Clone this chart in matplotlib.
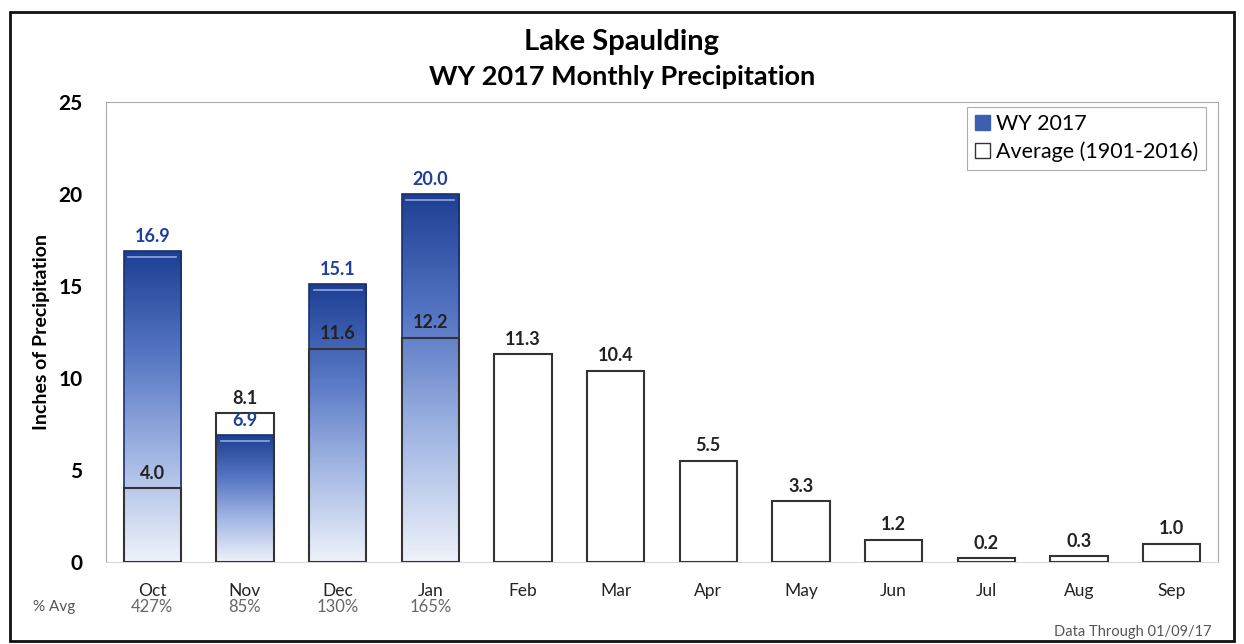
import numpy as np
import matplotlib.pyplot as plt
from matplotlib.colors import LinearSegmentedColormap
from matplotlib.patches import Rectangle, Patch

months = ['Oct', 'Nov', 'Dec', 'Jan', 'Feb', 'Mar', 'Apr', 'May', 'Jun', 'Jul', 'Aug', 'Sep']
wy2017 = [16.9, 6.9, 15.1, 20.0]
average = [4.0, 8.1, 11.6, 12.2, 11.3, 10.4, 5.5, 3.3, 1.2, 0.2, 0.3, 1.0]
pct_avg = ['427%', '85%', '130%', '165%']

plt.rcParams['font.family'] = ['Lato', 'DejaVu Sans']

grad = LinearSegmentedColormap.from_list('wy', ['#eef2fa', '#a4b8e4', '#5676c4', '#1d3f93'])

fig = plt.figure(figsize=(12.44, 6.44), dpi=100)
ax = fig.add_axes([0.0852, 0.1273, 0.8938, 0.7143])

x = np.arange(len(months))
w = 0.62

# WY 2017 bars with vertical gradient
bars = ax.bar(x[:len(wy2017)], wy2017, width=w, color='none', edgecolor='#1a2f6e', lw=1.2, zorder=3)
g = np.linspace(0, 1, 256).reshape(-1, 1)
for b, v in zip(bars, wy2017):
    x0 = b.get_x()
    im = ax.imshow(g, cmap=grad, origin='lower', aspect='auto',
                   extent=[x0, x0 + w, 0, v], zorder=2)
    im.set_clip_path(b)
    ax.plot([x0 + 0.05, x0 + w - 0.05], [v - 0.3, v - 0.3], color='#93a9dc', lw=1.2, zorder=2.5)
    ax.text(b.get_x() + w / 2, v + 0.35, f'{v:.1f}', ha='center', va='bottom',
            fontsize=13, fontweight='bold', color='#1f3f9a', zorder=5)

# average bars, outline only
avg_bars = ax.bar(x, average, width=w, facecolor='none', edgecolor='#333333', lw=1.5, zorder=4)
for b, v in zip(avg_bars, average):
    ax.text(b.get_x() + w / 2, v + 0.35, f'{v:.1f}', ha='center', va='bottom',
            fontsize=13, fontweight='bold', color='#222222', zorder=5)

ax.set_xlim(-0.5, len(months) - 0.5)
ax.set_ylim(0, 25)
ax.set_yticks([0, 5, 10, 15, 20, 25])
ax.set_xticks(x)
ax.set_xticklabels(months, fontsize=12.5, color='#222222')
ax.tick_params(axis='y', length=0, pad=17, labelsize=15)
for t in ax.get_yticklabels():
    t.set_fontweight('bold')
ax.tick_params(axis='x', length=0, pad=15)
for s in ['left', 'top', 'right']:
    ax.spines[s].set_color('#b0a8a8')
    ax.spines[s].set_linewidth(0.8)
ax.spines['bottom'].set_color('#d0d0d0')
ax.spines['bottom'].set_linewidth(0.6)

ax.set_ylabel('Inches of Precipitation', fontsize=14, fontweight='bold')
ax.yaxis.set_label_coords(-0.050, 0.5)

# percent of average row
fig.text(33 / 1244, 1 - 607 / 644, '% Avg', fontsize=11, color='#555555', ha='left', va='center')
for i, p in enumerate(pct_avg):
    ax.text(x[i], -2.45, p, transform=ax.transData, fontsize=12, color='#666666',
            ha='center', va='center', clip_on=False)

fig.text(0.5, 1 - 42 / 644, 'Lake Spaulding', ha='center', va='center', fontsize=21, fontweight='bold')
fig.text(0.5, 1 - 77 / 644, 'WY 2017 Monthly Precipitation', ha='center', va='center',
         fontsize=19.5, fontweight='bold')
fig.text(1212 / 1244, 1 - 632 / 644, 'Data Through 01/09/17', ha='right', va='center',
         fontsize=10.5, color='#555555')

# legend
handles = [Patch(facecolor='#3d5fb0', edgecolor='#3d5fb0'),
           Patch(facecolor='white', edgecolor='#333333')]
leg = ax.legend(handles, ['WY 2017', 'Average (1901-2016)'], loc='upper right',
                bbox_to_anchor=(0.9895, 0.99), fontsize=15.5, frameon=True, fancybox=False,
                handlelength=0.7, handleheight=0.7, handletextpad=0.3, borderpad=0.35,
                labelspacing=0.35, borderaxespad=0)
leg.get_frame().set_edgecolor('#999999')
leg.get_frame().set_linewidth(0.8)

fig.patches.append(Rectangle((0.008, 0.004), 0.984, 0.977, transform=fig.transFigure,
                             fill=False, edgecolor='#111111', lw=2))

fig.savefig('out.png', dpi=100)
